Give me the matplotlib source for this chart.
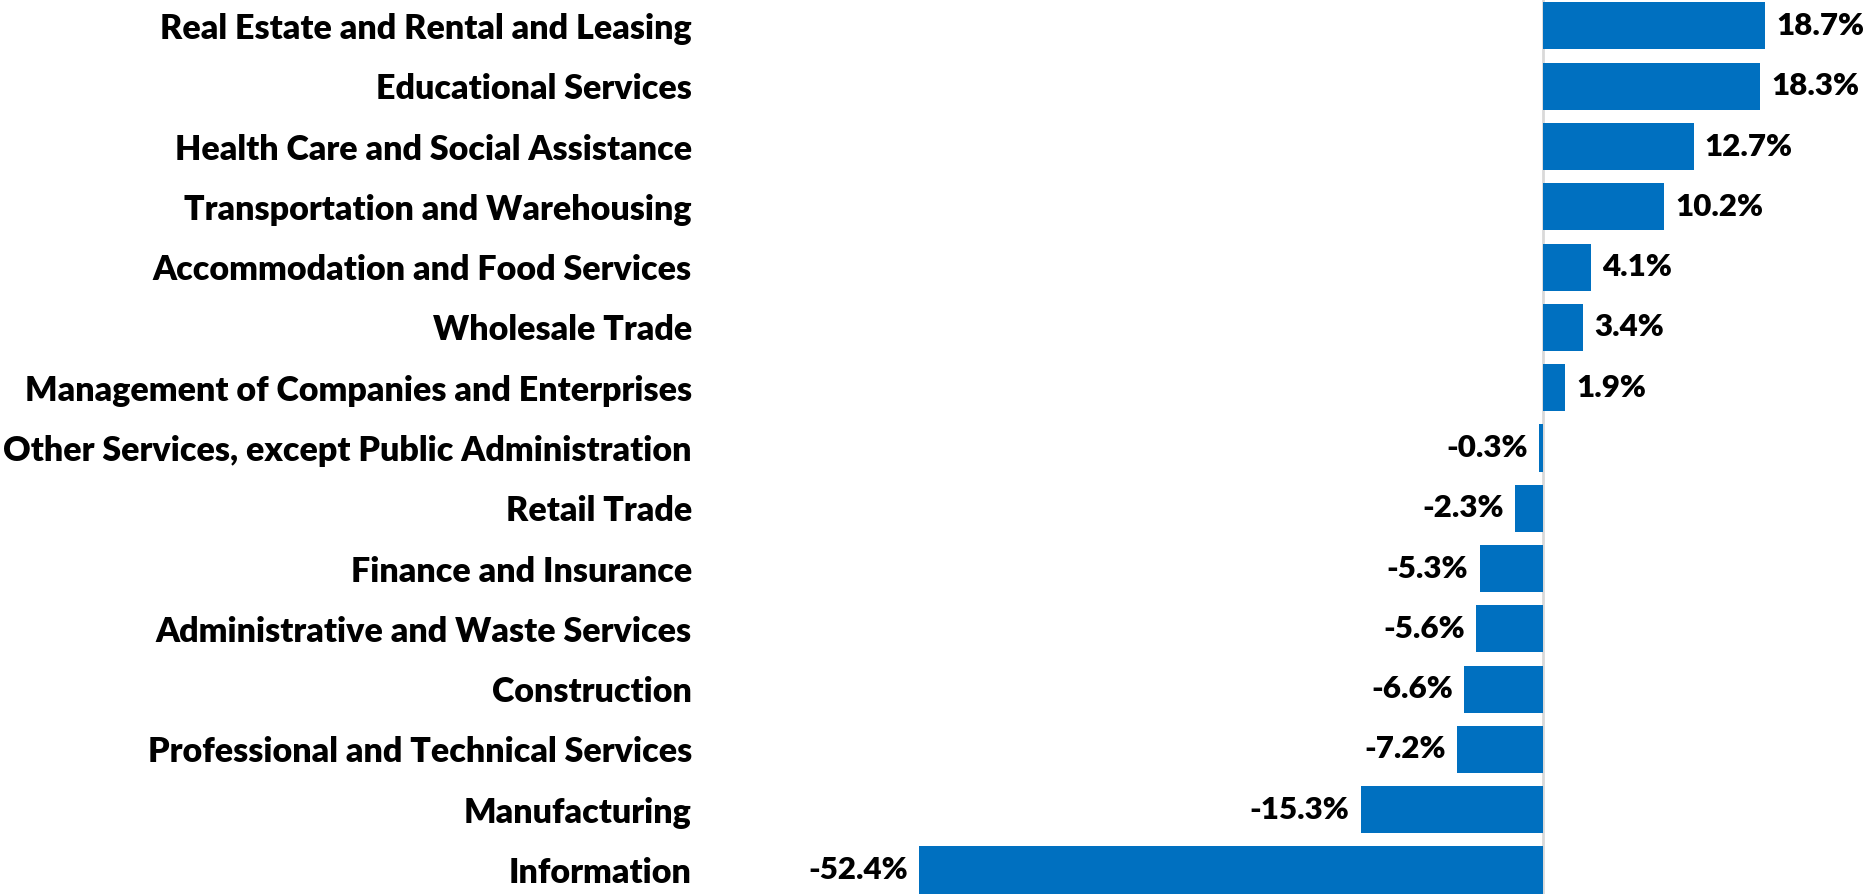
import matplotlib
matplotlib.use("Agg")
import matplotlib.pyplot as plt

categories = [
    "Real Estate and Rental and Leasing",
    "Educational Services",
    "Health Care and Social Assistance",
    "Transportation and Warehousing",
    "Accommodation and Food Services",
    "Wholesale Trade",
    "Management of Companies and Enterprises",
    "Other Services, except Public Administration",
    "Retail Trade",
    "Finance and Insurance",
    "Administrative and Waste Services",
    "Construction",
    "Professional and Technical Services",
    "Manufacturing",
    "Information",
]
values = [18.7, 18.3, 12.7, 10.2, 4.1, 3.4, 1.9, -0.3, -2.3, -5.3, -5.6, -6.6, -7.2, -15.3, -52.4]
value_labels = [f"{v:.1f}%" for v in values]

plt.rcParams['font.family'] = ['Lato', 'DejaVu Sans']

W, H = 1865, 894
fig = plt.figure(figsize=(W / 100, H / 100), dpi=100)
ax = fig.add_axes([705 / W, 0, 1 - 705 / W, 1])

ypos = list(range(len(categories)))
ax.barh(ypos, values, height=0.78, color="#0070C0", zorder=2)

ax.set_xlim(-70.4, 27.1)
ax.set_ylim(14.398, -0.431)
ax.axvline(0, color="#D9D9D9", lw=2, zorder=1)

ax.set_yticks(ypos)
ax.set_yticklabels(categories, fontsize=24.5, fontweight='heavy')
ax.tick_params(axis='y', length=0, pad=9.5)
ax.set_xticks([])
for s in ax.spines.values():
    s.set_visible(False)

for y, v, lab in zip(ypos, values, value_labels):
    if v >= 0:
        ax.annotate(lab, (v, y), xytext=(8, 0), textcoords='offset points',
                    ha='left', va='center', fontsize=22.5, fontweight='heavy')
    else:
        ax.annotate(lab, (v, y), xytext=(-8, 0), textcoords='offset points',
                    ha='right', va='center', fontsize=22.5, fontweight='heavy')

fig.savefig("out.png", dpi=100)
